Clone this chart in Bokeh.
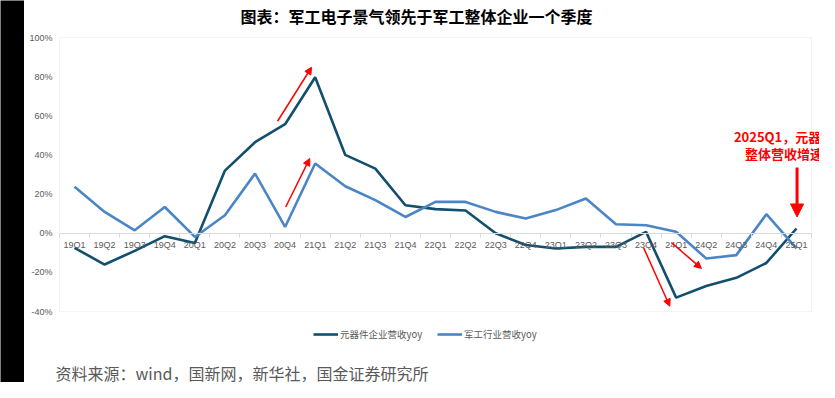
from bokeh.plotting import figure
from bokeh.models import (Range1d, FixedTicker, Label, Arrow, NormalHead, BoxAnnotation,
                          Legend, LegendItem, ColumnDataSource, NumeralTickFormatter)
from bokeh.layouts import row
from bokeh.embed import file_html
from bokeh.resources import INLINE

quarters = ["19Q1", "19Q2", "19Q3", "19Q4", "20Q1", "20Q2", "20Q3", "20Q4",
            "21Q1", "21Q2", "21Q3", "21Q4", "22Q1", "22Q2", "22Q3", "22Q4",
            "23Q1", "23Q2", "23Q3", "23Q4", "24Q1", "24Q2", "24Q3", "24Q4", "25Q1"]
component_yoy = [-7.5, -16.0, -9.0, -1.5, -5.0, 32.0, 46.5, 55.7,
                 79.7, 40.0, 33.0, 14.3, 12.3, 11.6, 0.0, -6.0,
                 -7.8, -7.0, -7.0, 0.7, -32.9, -27.0, -22.8, -15.2, 2.4]
industry_yoy = [23.7, 10.9, 1.5, 13.4, -1.9, 9.2, 30.5, 3.2,
                35.6, 24.0, 16.9, 8.3, 16.0, 16.0, 10.9, 7.5,
                11.8, 17.7, 4.6, 4.1, 0.7, -12.9, -11.2, 9.7, -7.8]
y_ticks = [-40, -20, 0, 20, 40, 60, 80, 100]
series_names = ["元器件企业营收yoy", "军工行业营收yoy"]
title_text = "图表：军工电子景气领先于军工整体企业一个季度"
source_text = "资料来源：wind，国新网，新华社，国金证券研究所"
note_lines = ["2025Q1，元器件企业", "整体营收增速转正"]

# red arrows: (x0, y0, x1, y1) in category units / percent
arrow_pts = [(7.25, 57.2, 8.38, 84.8),
             (7.52, 13.4, 8.32, 38.2),
             (19.42, -7.5, 20.29, -37.3),
             (20.34, -4.75, 21.34, -18.0)]
big_arrow = (24.52, 33.6, 24.52, 8.3)

n = len(quarters)
xc = [i + 0.5 for i in range(n)]

DARK = "#124F6E"
LIGHT = "#4A85C5"
GRAY = "#595959"
AXIS_GRAY = "#D9D9D9"

# geometry (pixels) of the main canvas
W, H = 795, 382
PLOT_L, PLOT_R = 35, 787        # plot box left/right inside canvas
PLOT_T, PLOT_B = 37, 311        # plot box top/bottom inside canvas
ymin, ymax = y_ticks[0], y_ticks[-1]
ppx = (PLOT_R - PLOT_L) / n
ppy = (PLOT_B - PLOT_T) / (ymax - ymin)
x_range = Range1d(-PLOT_L / ppx, (W - PLOT_L) / ppx)
y_range = Range1d(ymin - (H - PLOT_B) / ppy, ymax + PLOT_T / ppy)

p = figure(width=W, height=H, output_backend="svg", toolbar_location=None,
           x_range=x_range, y_range=y_range,
           min_border=0, background_fill_color="white", border_fill_color="white")
p.title.visible = False
p.outline_line_color = None
p.xgrid.visible = False
p.ygrid.visible = False

# plot box
p.add_layout(BoxAnnotation(left=0, right=n, bottom=ymin, top=ymax,
                           fill_alpha=0, line_color=AXIS_GRAY, line_width=1))

# y axis (fixed at x = 0)
ya = p.yaxis[0]
ya.fixed_location = 0
ya.ticker = FixedTicker(ticks=y_ticks)
ya.formatter = NumeralTickFormatter(format="0")
ya.major_label_overrides = {v: f"{v}%" for v in y_ticks}
ya.axis_line_color = None
ya.major_tick_line_color = None
ya.major_tick_out = 0
ya.major_tick_in = 0
ya.minor_tick_line_color = None
ya.minor_tick_out = 0
ya.major_label_text_font = "Liberation Sans"
ya.major_label_text_font_size = "9px"
ya.major_label_text_color = GRAY
ya.major_label_standoff = 7

# x axis (fixed at y = 0)
xa = p.xaxis[0]
xa.fixed_location = 0
xa.bounds = (0, n)
xa.ticker = FixedTicker(ticks=xc, minor_ticks=list(range(n + 1)))
xa.major_label_overrides = {x: q for x, q in zip(xc, quarters)}
xa.axis_line_color = AXIS_GRAY
xa.axis_line_width = 1
xa.major_tick_line_color = None
xa.major_tick_out = 0
xa.major_tick_in = 0
xa.minor_tick_line_color = AXIS_GRAY
xa.minor_tick_in = 0
xa.minor_tick_out = 4
xa.major_label_text_font = "Liberation Sans"
xa.major_label_text_font_size = "9px"
xa.major_label_text_color = GRAY
xa.major_label_standoff = 3

src = ColumnDataSource(dict(x=xc, a=component_yoy, b=industry_yoy))
r1 = p.line("x", "a", source=src, line_color=DARK, line_width=2.6)
r2 = p.line("x", "b", source=src, line_color=LIGHT, line_width=2.6)

for (x0, y0, x1, y1) in arrow_pts:
    p.add_layout(Arrow(x_start=x0, y_start=y0, x_end=x1, y_end=y1,
                       line_color="#FF0000", line_width=1.5,
                       end=NormalHead(size=7, fill_color="#FF0000", line_color="#FF0000")))
bx0, by0, bx1, by1 = big_arrow
p.add_layout(Arrow(x_start=bx0, y_start=by0, x_end=bx1, y_end=by1,
                   line_color="#FF0000", line_width=3,
                   end=NormalHead(size=13, fill_color="#FF0000", line_color="#FF0000")))

def sx(px):
    return (px - PLOT_L) / ppx

def sy(py):
    return ymax - (py - PLOT_T) / ppy

# title
p.add_layout(Label(x=sx(392), y=sy(15), text=title_text,
                   text_align="center", text_baseline="middle", text_font="Noto Sans CJK SC",
                   text_font_style="bold", text_font_size="16px", text_color="#000000"))
# red note
p.add_layout(Label(x=bx0, y=sy(136), text=note_lines[0],
                   text_align="center", text_baseline="middle", text_font="Noto Sans CJK SC",
                   text_font_style="bold", text_font_size="13px", text_color="#FF0000"))
p.add_layout(Label(x=bx0, y=sy(152.7), text=note_lines[1],
                   text_align="center", text_baseline="middle", text_font="Noto Sans CJK SC",
                   text_font_style="bold", text_font_size="13px", text_color="#FF0000"))
# source
p.add_layout(Label(x=sx(31), y=sy(372), text=source_text,
                   text_align="left", text_baseline="middle", text_font="Noto Sans CJK SC",
                   text_font_size="16px", text_color=GRAY))

legend = Legend(items=[LegendItem(label=series_names[0], renderers=[r1]),
                       LegendItem(label=series_names[1], renderers=[r2])],
                orientation="horizontal", location=(289, H - 341),
                padding=0, margin=0, spacing=15, label_standoff=2,
                glyph_width=25, glyph_height=12, label_height=12,
                label_text_font="Noto Sans CJK SC", label_text_font_size="9.5px",
                label_text_color=GRAY, border_line_color=None,
                background_fill_alpha=0)
p.add_layout(legend, "center")

bar = figure(width=24, height=H, output_backend="svg", toolbar_location=None,
             min_border=0, background_fill_color="black", border_fill_color="black")
bar.title.visible = False
bar.axis.visible = False
bar.grid.visible = False
bar.outline_line_color = None

layout = row(bar, p, spacing=0)
open("out.html", "w").write(file_html(layout, INLINE))
